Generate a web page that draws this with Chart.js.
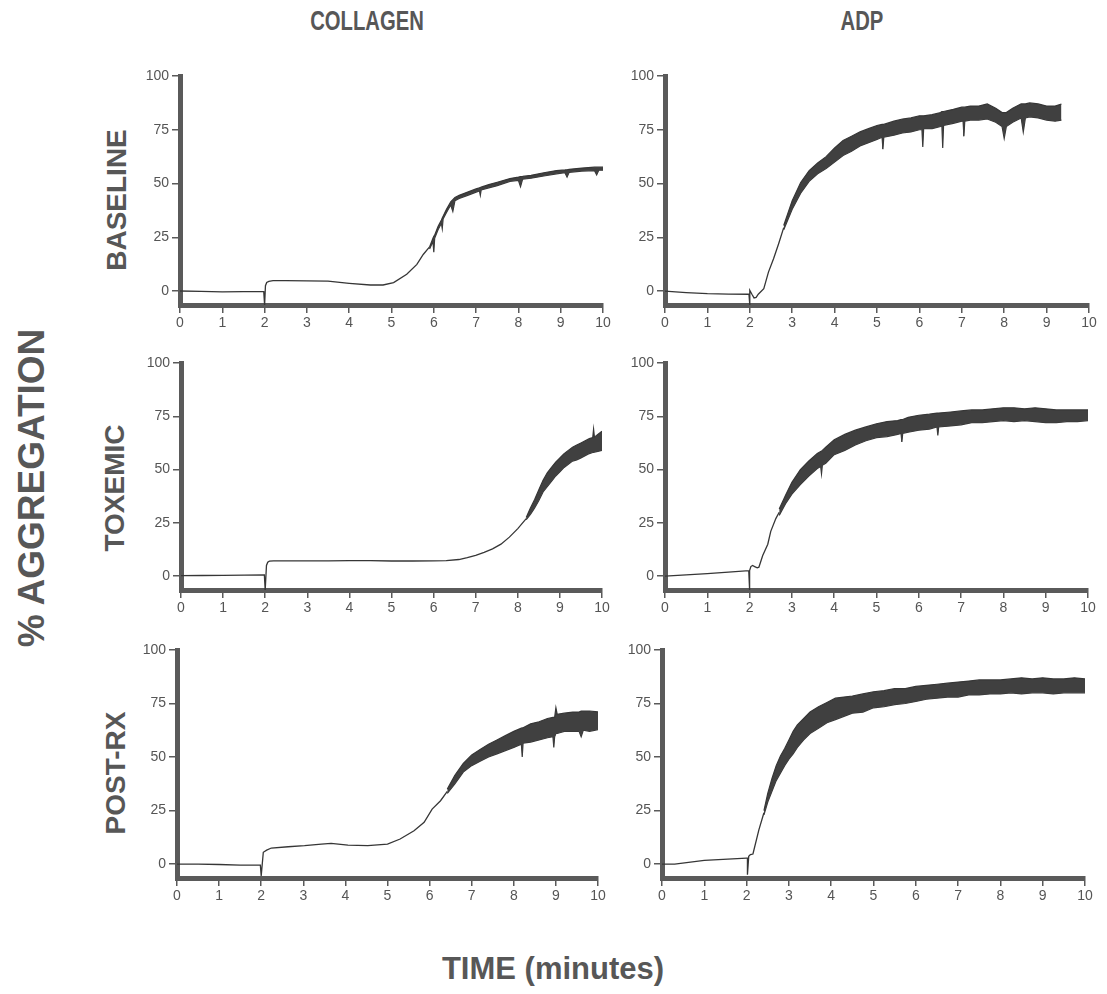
<!DOCTYPE html>
<html>
<head>
<meta charset="utf-8">
<script src="https://cdn.jsdelivr.net/npm/chart.js"></script>
<style>
  html, body { margin:0; padding:0; background:#ffffff; }
  body { width:1107px; height:994px; position:relative; overflow:hidden; font-family:"Liberation Sans", Arial, Helvetica, sans-serif; }
  canvas { position:absolute; }
  .lbl { position:absolute; white-space:nowrap; font-weight:bold; color:#575757; line-height:1; }
</style>
</head>
<body>
<div class="lbl" style="left:367px;top:21px;font-size:27px;transform:translate(-50%,-50%) scaleX(0.75);">COLLAGEN</div>
<div class="lbl" style="left:862px;top:21px;font-size:27px;transform:translate(-50%,-50%) scaleX(0.75);">ADP</div>
<div class="lbl" style="left:117px;top:200px;font-size:28px;transform:translate(-50%,-50%) rotate(-90deg);">BASELINE</div>
<div class="lbl" style="left:115px;top:488px;font-size:28px;transform:translate(-50%,-50%) rotate(-90deg);">TOXEMIC</div>
<div class="lbl" style="left:116px;top:773px;font-size:28px;transform:translate(-50%,-50%) rotate(-90deg);">POST-RX</div>
<div class="lbl" style="left:31px;top:488px;font-size:37px;transform:translate(-50%,-50%) rotate(-90deg);">% AGGREGATION</div>
<div class="lbl" style="left:553px;top:968px;font-size:31px;transform:translate(-50%,-50%);">TIME (minutes)</div>

<canvas id="p1"></canvas>
<canvas id="p2"></canvas>
<canvas id="p3"></canvas>
<canvas id="p4"></canvas>
<canvas id="p5"></canvas>
<canvas id="p6"></canvas>

<script>
// ---- tick labels ----
const xTicks = [0,1,2,3,4,5,6,7,8,9,10];
const yTicks = [0,25,50,75,100];

// ---- COLLAGEN / BASELINE ----
const colBaseX  = [0,0.5,1,1.5,1.98,2.0,2.02,2.05,2.1,2.2,2.5,3,3.5,4,4.5,4.8,5.05,5.36,5.6,5.75,5.9];
const colBaseY  = [0,-0.2,-0.4,-0.3,-0.3,-6.5,2.5,4.0,4.5,4.8,4.8,4.7,4.6,3.6,2.8,2.8,3.9,7.8,12.4,17,20.5];
const colBaseBX = [5.9,5.98,6.0,6.02,6.1,6.18,6.2,6.22,6.3,6.4,6.45,6.5,6.6,6.8,7.0,7.08,7.1,7.12,7.3,7.5,7.8,8.0,8.05,8.1,8.3,8.6,8.9,9.1,9.15,9.2,9.5,9.8,9.85,9.9,10.05];
const colBaseHi = [20.5,24.5,25.5,26,30,33,34,34.8,38,41.5,42.5,43.5,44.5,46,47.5,48,48.2,48.3,49.5,50.6,52.3,53,53.2,53.3,53.8,55,56,56.3,56.4,56.6,57.2,57.6,57.6,57.6,57.6];
const colBaseLo = [19.5,23,18,24.5,28.5,31.5,29,33.5,36.5,40,37,42,43,44.5,46,46.5,44.5,47,48,49,51,51.5,48.5,52,52.5,53.5,54.5,55,53,55.2,55.8,56,54,56.2,56.2];

// ---- ADP / BASELINE ----
const adpBaseX  = [0,0.5,1,1.5,1.98,2.0,2.0,2.05,2.1,2.15,2.2,2.33,2.44,2.56,2.68,2.8];
const adpBaseY  = [0,-0.7,-1.2,-1.4,-1.5,-6.5,0.3,-1.5,-3.2,-3.0,-1.5,1.1,8.8,15,22,29.5];
const adpBaseBX = [2.8,3.0,3.2,3.4,3.6,3.8,4.0,4.2,4.4,4.6,4.8,5.0,5.12,5.14,5.16,5.4,5.6,5.8,6.0,6.06,6.08,6.1,6.3,6.5,6.53,6.55,6.57,6.8,7.0,7.03,7.05,7.07,7.2,7.4,7.6,7.8,7.95,8.0,8.05,8.2,8.4,8.45,8.5,8.6,8.8,9.0,9.2,9.35];
const adpBaseHi = [30.5,42,50.5,56,59.5,62.5,66.5,70,72,74,75.5,77,77.5,77.5,77.5,79,80,80.5,81.5,81.5,81.5,81.5,82,83,83.5,83.5,83.5,84.5,85.5,85.5,85.5,85.5,86,86,87,85,83,83,83,85,87,87,87,87.5,87,86,86,87];
const adpBaseLo = [28.5,38,45.5,51,54.5,57,60,63,65,67.5,69,70.5,71.5,66,71.5,72.5,73.5,74,75,75,67,75.5,75.5,76.5,77,66.5,77,78,79,79,72,79,79.5,79.5,80,78.5,76.5,71,76.5,78.5,80.5,74,80.5,81,80.5,79.5,79,79.5];

// ---- COLLAGEN / TOXEMIC ----
const colToxX  = [0,0.5,1,1.5,1.98,2.0,2.03,2.06,2.1,2.2,2.5,3,3.5,4,4.5,5,5.5,6,6.3,6.6,6.8,7.0,7.2,7.4,7.6,7.8,8.0,8.2];
const colToxY  = [0.2,0.3,0.4,0.5,0.6,-6.5,5,6.5,7,7.2,7.2,7.2,7.2,7.3,7.3,7.1,7.1,7.2,7.3,7.8,8.7,9.8,11.2,12.8,15,18.3,22.3,27];
const colToxBX = [8.2,8.3,8.4,8.5,8.6,8.7,8.8,8.9,9.0,9.1,9.2,9.3,9.4,9.5,9.6,9.7,9.78,9.8,9.82,9.9,10.0,10.1];
const colToxHi = [27.5,32,36,40.5,45,48.5,51,53.5,55.5,57.5,59,60.5,61.5,62.5,63.5,64.5,65,69,65.2,66.5,68,66.5];
const colToxLo = [26.5,29,32,35.5,39.5,42,44.5,47,49,51,52.5,54,54.5,55.5,56.5,57.5,58,58,58.2,58.5,59,60];

// ---- ADP / TOXEMIC ----
const adpToxX  = [0,0.5,1,1.5,1.98,2.0,2.0,2.03,2.07,2.12,2.18,2.22,2.31,2.43,2.5,2.62,2.7];
const adpToxY  = [0,0.6,1.2,1.9,2.6,-6.5,2.6,4.5,5.0,4.5,3.9,4.2,9.7,15,21,27,30];
const adpToxBX = [2.7,2.85,3.0,3.2,3.4,3.6,3.68,3.7,3.72,3.8,4.0,4.25,4.5,4.75,5.0,5.25,5.5,5.58,5.6,5.62,5.75,6.0,6.25,6.43,6.45,6.47,6.75,7.0,7.25,7.5,7.75,8.0,8.25,8.5,8.75,9.0,9.25,9.5,9.75,10.0];
const adpToxHi = [31.5,38,44,50,54,57.5,58.5,58.7,59,60.5,64,66.5,68.5,70,71.5,72.5,73,73.5,73.5,73.5,74.5,75.5,76,76.5,76.5,76.5,77,77.5,78,78,78.5,79,79,78.5,79,78.5,78,78,78,78];
const adpToxLo = [28.5,34,38.5,43,47,50.5,51.5,48,52,53,57,59,61.5,63.5,65,65.5,66.5,67,63,67,67.5,68.5,69,70,66,70,70.5,71,72,72,72.5,73,72.5,73,72.5,72,72,72.5,72.5,73];

// ---- COLLAGEN / POST-RX ----
const colPostX  = [0,0.5,1,1.5,1.98,2.0,2.05,2.13,2.24,2.64,3.03,3.43,3.66,4.06,4.53,5.0,5.3,5.63,5.87,6.06,6.26,6.42];
const colPostY  = [0,0,-0.2,-0.5,-0.5,-5.5,5.5,6.5,7.5,8.1,8.6,9.3,9.7,8.9,8.6,9.3,11.7,15.6,19.5,25.7,29.6,34];
const colPostBX = [6.42,6.6,6.8,7.0,7.2,7.4,7.6,7.8,8.0,8.18,8.2,8.22,8.4,8.6,8.8,8.93,8.95,8.97,9.0,9.03,9.2,9.4,9.55,9.6,9.65,9.8,10.04];
const colPostHi = [35,41.5,47,51,53.5,56,58,60,62,63.5,63.6,63.7,65.5,66.5,68,68.5,68.5,68.5,73,70,70.5,71,71,71.5,71.5,71.5,71];
const colPostLo = [33,37.5,43,46,48,50,51.5,53,54.5,56,50,56.5,57,58,59,59.5,54.5,59.5,61,61,62,62,62,59.5,62.5,62,63];

// ---- ADP / POST-RX ----
const adpPostX  = [0,0.3,1,2.0,2.02,2.02,2.05,2.09,2.15,2.29,2.41];
const adpPostY  = [0,0,1.7,2.8,2.8,-5,3.6,4.4,4.7,16,24];
const adpPostBX = [2.41,2.5,2.6,2.7,2.8,2.9,3.0,3.1,3.2,3.35,3.5,3.7,3.9,4.1,4.3,4.5,4.75,5.0,5.25,5.5,5.75,6.0,6.25,6.5,6.75,7.0,7.25,7.5,7.75,8.0,8.25,8.5,8.75,9.0,9.25,9.5,9.75,10.0];
const adpPostHi = [25,33,40,46,50.5,54,58,62,65,68,71,73.5,75.5,77.5,78,78.5,79.5,80.5,81,82,82,83,83.5,84,84.5,85,85.5,86,86,86,86.5,87,86.5,87,86.5,86.5,87,86.5];
const adpPostLo = [23,29,34,39,42.5,46,49,51.5,54.5,58,61,63.5,66,67.5,69,70.5,71,73,73.5,74.5,75,76,77,77.5,78,78,79,79,79.5,79.5,80,79.5,80,80,79.5,80,80,80];

// ---- layout (pixel boxes of each plot area) ----
const PAD_T = 12, YW = 62, XH = 34, PAD_R = 16;
const panels = [
  {id:'p1', x:colBaseX, y:colBaseY, bx:colBaseBX, hi:colBaseHi, lo:colBaseLo, L:180, R:603, T:76,  B:305},
  {id:'p2', x:adpBaseX, y:adpBaseY, bx:adpBaseBX, hi:adpBaseHi, lo:adpBaseLo, L:665, R:1089, T:76, B:305},
  {id:'p3', x:colToxX,  y:colToxY,  bx:colToxBX,  hi:colToxHi,  lo:colToxLo,  L:181, R:602, T:363, B:590},
  {id:'p4', x:adpToxX,  y:adpToxY,  bx:adpToxBX,  hi:adpToxHi,  lo:adpToxLo,  L:665, R:1088, T:363, B:590},
  {id:'p5', x:colPostX, y:colPostY, bx:colPostBX, hi:colPostHi, lo:colPostLo, L:177, R:598, T:650, B:878},
  {id:'p6', x:adpPostX, y:adpPostY, bx:adpPostBX, hi:adpPostHi, lo:adpPostLo, L:662, R:1085, T:650, B:878}
];

const pts = (xs, ys) => xs.map((x, i) => ({x: x, y: ys[i]}));
const AXIS = '#5a5a5a';
const INK = '#363636';
const TICKFONT = {family: '"Liberation Sans", Arial, Helvetica, sans-serif', size: 14};

panels.forEach(p => {
  const cv = document.getElementById(p.id);
  const w = YW + (p.R - p.L) + PAD_R;
  const h = PAD_T + (p.B - p.T) + XH;
  cv.width = w; cv.height = h;
  cv.style.left = (p.L - YW) + 'px';
  cv.style.top = (p.T - PAD_T) + 'px';
  cv.style.width = w + 'px'; cv.style.height = h + 'px';

  new Chart(cv, {
    type: 'line',
    data: {
      datasets: [
        {data: pts(p.x, p.y), borderColor: INK, borderWidth: 1.3, pointRadius: 0, tension: 0, fill: false},
        {data: pts(p.bx, p.hi), borderColor: INK, borderWidth: 1.2, pointRadius: 0, tension: 0, fill: '+1', backgroundColor: '#404040'},
        {data: pts(p.bx, p.lo), borderColor: INK, borderWidth: 1.2, pointRadius: 0, tension: 0, fill: false}
      ]
    },
    options: {
      responsive: false,
      animation: false,
      devicePixelRatio: 1,
      layout: {padding: {top: PAD_T, right: PAD_R, left: 0, bottom: 0}},
      plugins: {legend: {display: false}, tooltip: {enabled: false}, title: {display: false}},
      scales: {
        x: {
          type: 'linear', min: 0, max: 10,
          afterBuildTicks: s => { s.ticks = xTicks.map(v => ({value: v})); },
          afterFit: s => { s.height = XH; },
          ticks: {color: '#555', font: TICKFONT, padding: 2, maxRotation: 0, autoSkip: false},
          grid: {drawOnChartArea: false, drawTicks: true, tickLength: 8, color: AXIS, lineWidth: 1.5},
          border: {display: true, color: AXIS, width: 5}
        },
        y: {
          type: 'linear', min: -6.5, max: 100,
          afterBuildTicks: s => { s.ticks = yTicks.map(v => ({value: v})); },
          afterFit: s => { s.width = YW; },
          ticks: {color: '#555', font: TICKFONT, padding: 3},
          grid: {drawOnChartArea: false, drawTicks: true, tickLength: 8, color: AXIS, lineWidth: 1.5},
          border: {display: true, color: AXIS, width: 5}
        }
      }
    }
  });
});
</script>
</body>
</html>
